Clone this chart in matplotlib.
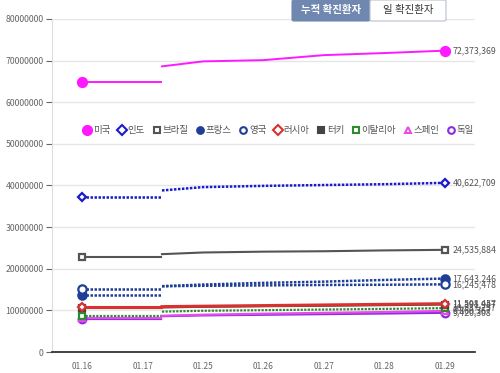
import matplotlib
matplotlib.use('Agg')
import matplotlib.pyplot as plt
from matplotlib.patches import FancyBboxPatch
from matplotlib.lines import Line2D

plt.rcParams['font.family'] = ['Noto Sans CJK KR', 'DejaVu Sans']

# category axis
dates = ['01.16', '01.17', '01.25', '01.26', '01.27', '01.28', '01.29']
# first segment runs from 01.16 a bit past 01.17, second one picks up right after
seg1_x = [0, 1.3]
seg2_x = [1.32, 2, 3, 4, 5, 6]

names = ['미국', '인도', '브라질', '프랑스', '영국', '러시아', '터키', '이탈리아', '스페인', '독일']

# values in millions
seg1 = {
    '미국':   64.8,
    '인도':   37.3,
    '브라질': 22.9,
    '프랑스': 13.7,
    '영국':   15.2,
    '러시아': 10.8,
    '터키':   10.6,
    '이탈리아': 8.6,
    '스페인':  8.1,
    '독일':    7.9,
}
seg2 = {
    '미국':   [68.6, 69.8, 70.1, 71.3, 71.8, 72.373369],
    '인도':   [38.8, 39.6, 39.9, 40.1, 40.3, 40.622709],
    '브라질': [23.5, 23.9, 24.1, 24.2, 24.4, 24.535884],
    '프랑스': [15.8, 16.2, 16.6, 16.9, 17.3, 17.643246],
    '영국':   [15.8, 15.9, 16.0, 16.1, 16.15, 16.245478],
    '러시아': [10.9, 11.0, 11.15, 11.3, 11.45, 11.598457],
    '터키':   [10.7, 10.85, 11.0, 11.1, 11.25, 11.391947],
    '이탈리아': [9.7, 9.9, 10.05, 10.2, 10.35, 10.537257],
    '스페인':  [8.7, 8.95, 9.2, 9.4, 9.6, 9.860367],
    '독일':    [8.6, 8.8, 8.95, 9.1, 9.25, 9.420308],
}
end_labels = {
    '미국': '72,373,369', '인도': '40,622,709', '브라질': '24,535,884',
    '프랑스': '17,643,246', '영국': '16,245,478', '러시아': '11,598,457',
    '터키': '11,391,947', '이탈리아': '10,537,257', '스페인': '9,860,367',
    '독일': '9,420,308',
}

# colour, linestyle, linewidth, marker, filled, markersize
styles = {
    '미국':   ('#ff19ff', '-', 1.4, 'o', True, 6.5),
    '인도':   ('#1a1acc', (0, (1, 0.6)), 1.8, 'D', False, 4.5),
    '브라질': ('#555555', '-', 1.5, 's', False, 4.8),
    '프랑스': ('#1e3f96', (0, (1, 0.6)), 1.8, 'o', True, 6),
    '영국':   ('#1e3f96', (0, (1, 0.6)), 1.8, 'o', False, 6),
    '러시아': ('#d93030', '-', 2.2, 'D', False, 4.5),
    '터키':   ('#444444', '-', 1.5, 's', True, 4.8),
    '이탈리아': ('#2e8b2e', (0, (1, 0.6)), 1.6, 's', False, 4.8),
    '스페인':  ('#e84ce8', '-', 1.6, '^', False, 5),
    '독일':    ('#8a2be2', '-', 1.6, 'o', False, 5.5),
}

fig = plt.figure(figsize=(5, 3.73), dpi=100)
ax = fig.add_axes([0.104, 0.0563, 0.846, 0.893])

order = ['독일', '스페인', '이탈리아', '터키', '러시아', '프랑스', '영국', '브라질', '인도', '미국']
for n in order:
    c, ls, lw, mk, filled, ms = styles[n]
    v0 = seg1[n] * 1e6
    ys = [v * 1e6 for v in seg2[n]]
    ax.plot(seg1_x, [v0, v0], color=c, linestyle=ls, linewidth=lw, zorder=3)
    ax.plot(seg2_x, ys, color=c, linestyle=ls, linewidth=lw, zorder=3)
    fc = c if filled else 'white'
    ax.plot([0], [v0], marker=mk, color=c, mfc=fc, mec=c, mew=1.6, ms=ms, zorder=4)
    ax.plot([6], [ys[-1]], marker=mk, color=c, mfc=fc, mec=c, mew=1.6, ms=ms, zorder=4)
    ax.text(6.13, ys[-1], end_labels[n], fontsize=6.3, color='#555555',
            va='center', ha='left', zorder=5, clip_on=False)

ax.set_xlim(-0.5, 6.5)
ax.set_ylim(0, 80e6)
ax.set_xticks(range(len(dates)))
ax.set_xticklabels(dates)
ax.set_yticks([i * 10e6 for i in range(9)])
ax.set_yticklabels(['0'] + [str(i * 10000000) for i in range(1, 9)])
ax.tick_params(axis='x', length=0, labelsize=6, colors='#666666', pad=7)
ax.tick_params(axis='y', length=4, width=0.8, color='#666666', labelsize=6.3,
               colors='#666666', pad=2)
ax.grid(axis='y', color='#e6e6e6', linewidth=1)
ax.set_axisbelow(True)
for s in ['top', 'right']:
    ax.spines[s].set_visible(False)
ax.spines['left'].set_color('#dddddd')
ax.spines['bottom'].set_color('#222222')
ax.spines['bottom'].set_linewidth(1.2)

# legend
handles = []
for n in names:
    c, ls, lw, mk, filled, ms = styles[n]
    fc = c if filled else 'white'
    msz = 6.5 if n == '미국' else 4.8
    handles.append(Line2D([], [], linestyle='none', marker=mk, color=c, mfc=fc,
                          mec=c, mew=1.5, ms=msz, label=n))
leg = ax.legend(handles=handles, loc='center', bbox_to_anchor=(0.535, 0.665),
                ncol=10, frameon=False, fontsize=6.8, handletextpad=0.1,
                columnspacing=0.75, handlelength=1.0, borderaxespad=0)
for t in leg.get_texts():
    t.set_color('#555555')

# toggle buttons on top
b1 = FancyBboxPatch((292 / 500, 1 - 21 / 373), 78 / 500, 21 / 373,
                    boxstyle='round,pad=0,rounding_size=0.004',
                    transform=fig.transFigure, facecolor='#7088b0',
                    edgecolor='#7088b0', linewidth=0.8)
b2 = FancyBboxPatch((370 / 500, 1 - 21 / 373), 76 / 500, 21 / 373,
                    boxstyle='round,pad=0,rounding_size=0.004',
                    transform=fig.transFigure, facecolor='white',
                    edgecolor='#b8c0cc', linewidth=0.8)
fig.patches.extend([b1, b2])
fig.text(331 / 500, 1 - 10 / 373, '누적 확진환자', color='white', fontsize=7.5,
         fontweight='bold', ha='center', va='center')
fig.text(408 / 500, 1 - 10 / 373, '일 확진환자', color='#333333', fontsize=7.5,
         ha='center', va='center')

fig.savefig('out.png', dpi=100)
